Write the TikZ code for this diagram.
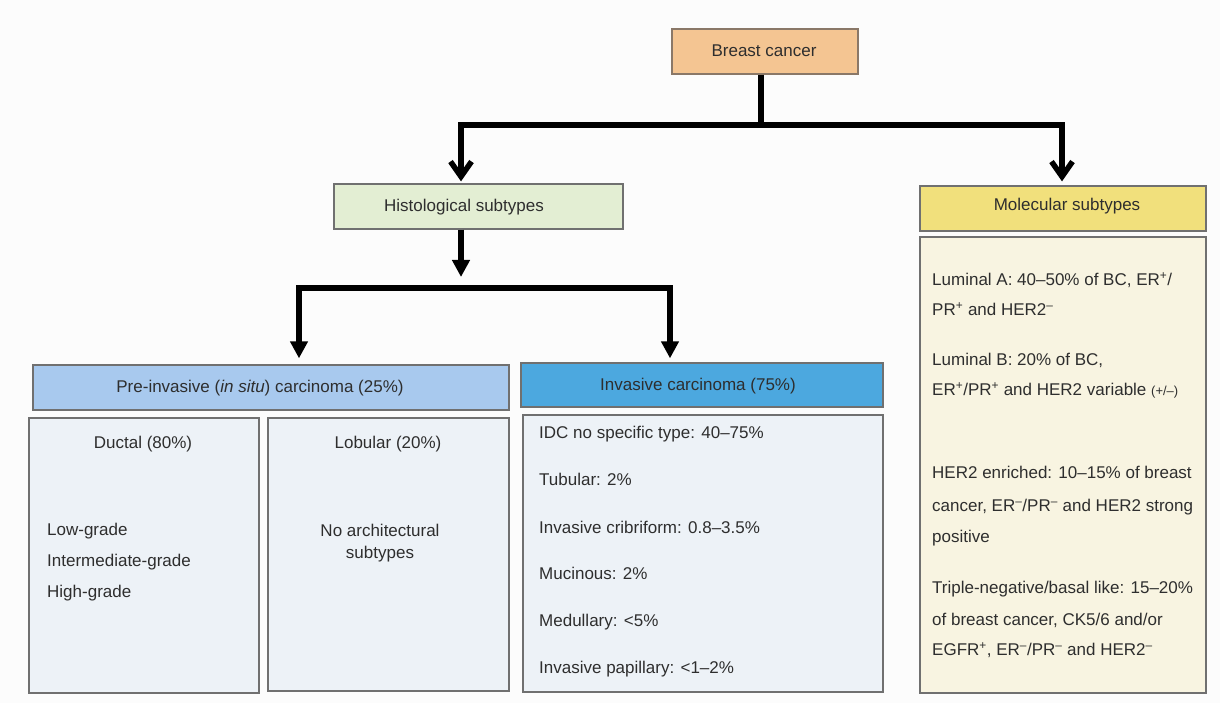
\documentclass[tikz,border=0pt]{standalone}
\usepackage{fontspec}
\setmainfont{Liberation Sans}
\usetikzlibrary{arrows.meta}
\definecolor{bgc}{HTML}{FCFCFC}
\definecolor{boxline}{HTML}{707070}
\definecolor{bcfill}{HTML}{F4C592}
\definecolor{bcline}{HTML}{8A7868}
\definecolor{histfill}{HTML}{E3EED3}
\definecolor{molfill}{HTML}{F1E07C}
\definecolor{molbody}{HTML}{F8F4E1}
\definecolor{prefill}{HTML}{A8C9EE}
\definecolor{invfill}{HTML}{4CA8DF}
\definecolor{bodyfill}{HTML}{EDF2F7}
\definecolor{txtc}{HTML}{2E2E2E}
\begin{document}
\begin{tikzpicture}[x=1pt,y=-1pt,
  box/.style={draw=boxline, line width=1.3pt, inner sep=0pt},
  txt/.style={font=\fontsize{17}{20}\selectfont, text=txtc, inner sep=0pt, text height=11pt, text depth=0pt},
  lt/.style={txt, anchor=west},
  trunk/.style={line width=5.5pt, black, line join=miter},
  bigtip/.tip={Straight Barb[length=15pt,width=21pt]},
  smalltip/.tip={Triangle[length=17pt,width=17pt]}]
\fill[bgc] (0,0) rectangle (1220,703);
\useasboundingbox (0,0) rectangle (1220,703);

% boxes
\node[box, draw=bcline, fill=bcfill, minimum width=186pt, minimum height=45pt] (bc) at (765,51.5) {};
\node[txt] (bct) at (764,51) {Breast cancer};
\node[box, fill=histfill, minimum width=289pt, minimum height=45pt] (hist) at (478.5,206.5) {};
\node[txt] (histt) at (464,206) {Histological subtypes};
\node[box, fill=molfill, minimum width=286pt, minimum height=45pt] (mol) at (1063,208.5) {};
\node[txt] (molt) at (1067,205) {Molecular subtypes};
\node[box, fill=molbody, minimum width=286pt, minimum height=456pt] (molb) at (1063,465) {};
\node[box, fill=prefill, minimum width=476pt, minimum height=45pt] (pre) at (271,387.5) {};
\node[txt] (pret) at (260,387) {Pre-invasive (\textit{in situ}) carcinoma (25\%)};
\node[box, fill=bodyfill, minimum width=230pt, minimum height=275pt] (duct) at (144,555.5) {};
\node[box, fill=bodyfill, minimum width=241pt, minimum height=273pt] (lob) at (388.5,554.5) {};
\node[box, fill=invfill, minimum width=362pt, minimum height=44pt] (inv) at (702,385) {};
\node[txt] (invt) at (698,385) {Invasive carcinoma (75\%)};
\node[box, fill=bodyfill, minimum width=360pt, minimum height=277pt] (invb) at (703,553.5) {};

% ductal / lobular texts
\node[txt] (d0) at (143,443) {Ductal (80\%)};
\node[lt] (d1) at (47,530) {Low-grade};
\node[lt] (d2) at (47,561) {Intermediate-grade};
\node[lt] (d3) at (47,592) {High-grade};
\node[txt] (l0) at (388,443) {Lobular (20\%)};
\node[txt] (l1) at (380,531) {No architectural};
\node[txt] (l2) at (380,553) {subtypes};

% invasive list
\node[lt] (i1) at (539,433) {IDC no specific type: 40–75\%};
\node[lt] (i2) at (539,480) {Tubular: 2\%};
\node[lt] (i3) at (539,528) {Invasive cribriform: 0.8–3.5\%};
\node[lt] (i4) at (539,574) {Mucinous: 2\%};
\node[lt] (i5) at (539,621) {Medullary: <5\%};
\node[lt] (i6) at (539,668) {Invasive papillary: <1–2\%};

% molecular list
\node[lt] (m1) at (932,280) {Luminal A: 40–50\% of BC, ER\textsuperscript{+}/};
\node[lt] (m2) at (932,310) {PR\textsuperscript{+} and HER2\textsuperscript{–}};
\node[lt] (m3) at (932,360) {Luminal B: 20\% of BC,};
\node[lt] (m4) at (932,390) {ER\textsuperscript{+}/PR\textsuperscript{+} and HER2 variable {\fontsize{13}{15}\selectfont(+/–)}};
\node[lt] (m5) at (932,473) {HER2 enriched: 10–15\% of breast};
\node[lt] (m6) at (932,506) {cancer, ER\textsuperscript{–}/PR\textsuperscript{–} and HER2 strong};
\node[lt] (m7) at (932,537) {positive};
\node[lt] (m8) at (932,588) {Triple-negative/basal like: 15–20\%};
\node[lt] (m9) at (932,620) {of breast cancer, CK5/6 and/or};
\node[lt] (m10) at (932,650) {EGFR\textsuperscript{+}, ER\textsuperscript{–}/PR\textsuperscript{–} and HER2\textsuperscript{–}};

% connectors
\coordinate (tM) at (761,125);
\coordinate (tL) at (461,125);
\coordinate (tR) at (1062,125);
\coordinate (mT) at (461,277);
\coordinate (bL) at (299,288);
\coordinate (bR) at (670,288);
\draw[trunk] (tM |- bc.south) -- (tM);
\draw[trunk, {bigtip}-{bigtip}, shorten <=2pt, shorten >=4pt] (tL |- hist.north) -- (tL) -- (tR) -- (tR |- mol.north);
\draw[trunk, -{smalltip}] (tL |- hist.south) -- (mT);
\draw[trunk, {smalltip}-{smalltip}, shorten <=6pt, shorten >=4pt] (bL |- pre.north) -- (bL) -- (bR) -- (bR |- inv.north);
\end{tikzpicture}
\end{document}
